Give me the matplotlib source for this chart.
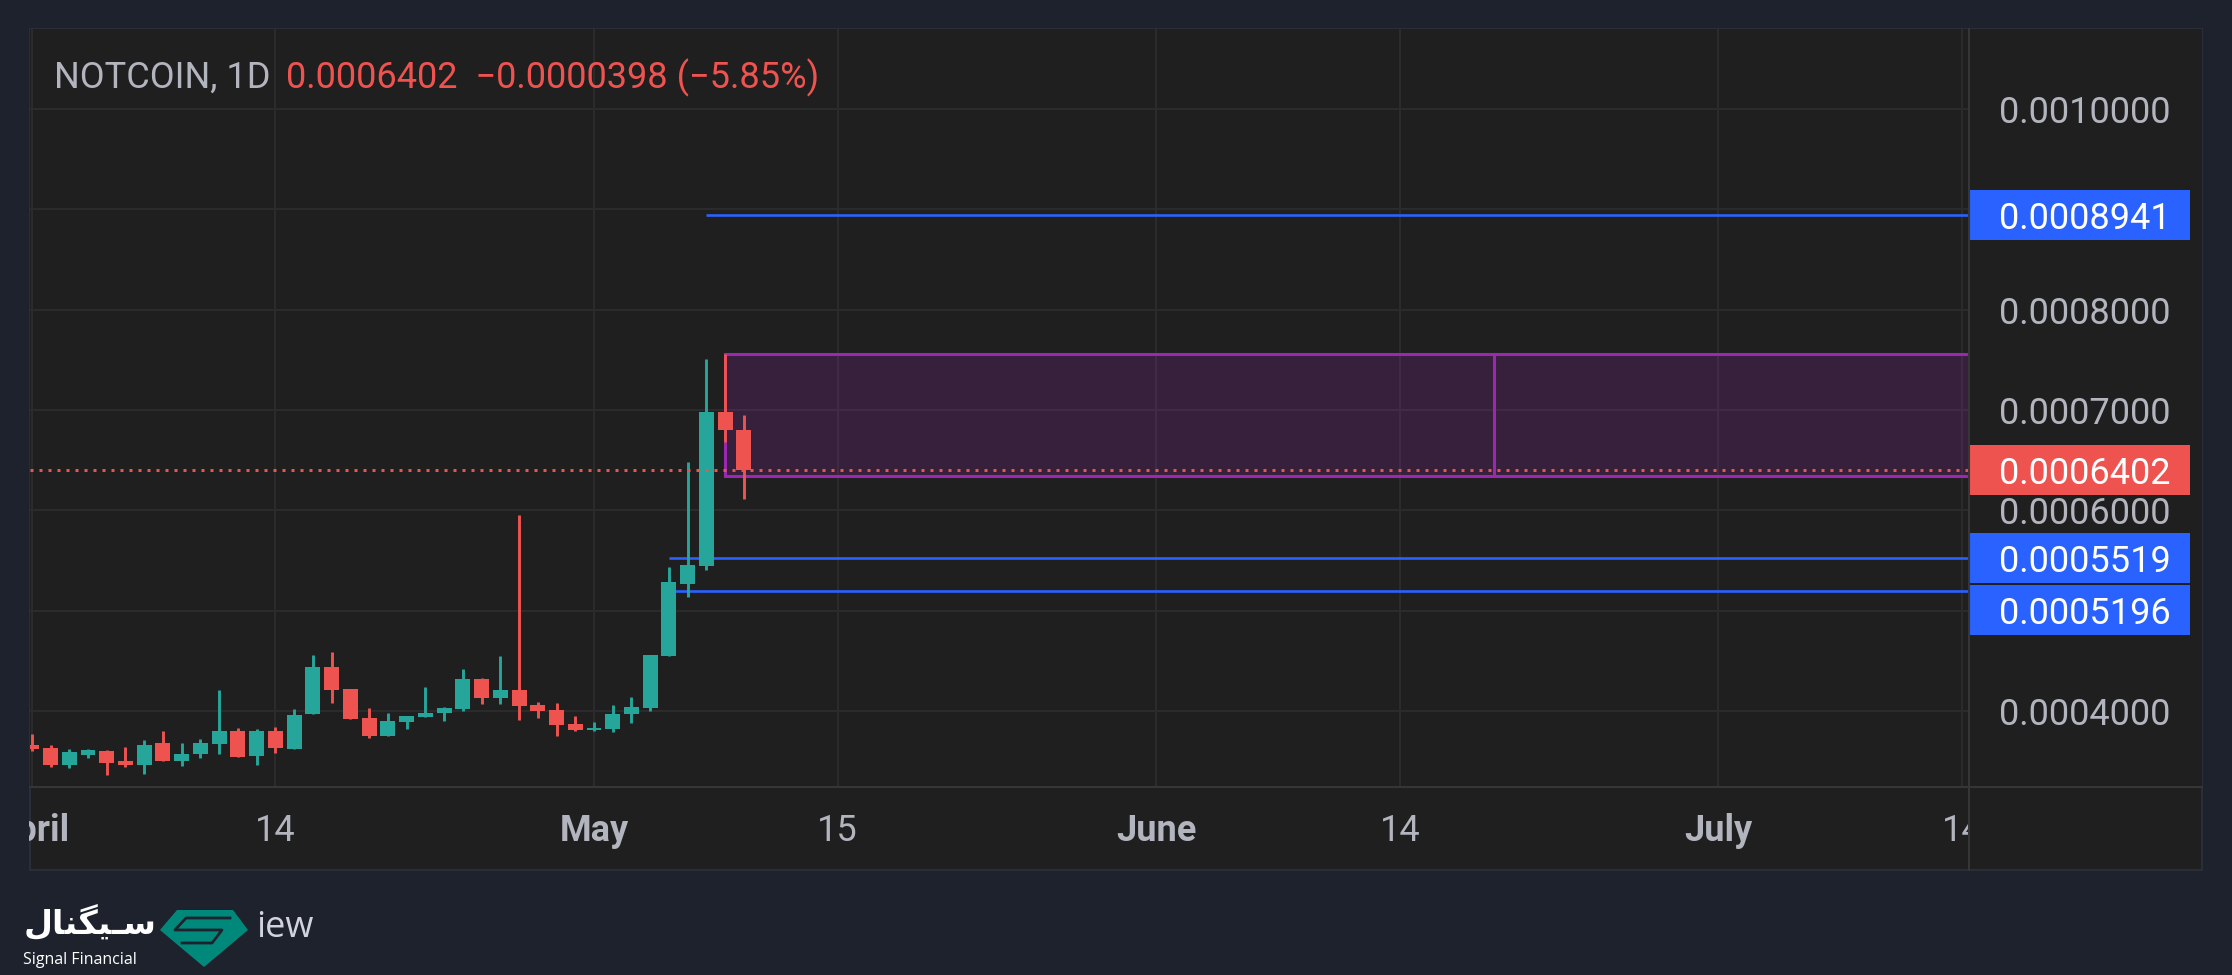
import matplotlib
matplotlib.use('Agg')
import matplotlib.pyplot as plt
from matplotlib.patches import Rectangle, Polygon
from matplotlib.lines import Line2D
from matplotlib.colors import to_rgba
import numpy as np

# NOTCOIN 1D candles, 1 April .. 9 May (x = days since 1 April), prices in 1e-7
opens = [3655, 3625, 3458, 3561, 3595, 3495, 3458, 3674, 3498, 3568, 3668, 3794, 3548,
         3794, 3618, 3967, 4432, 4213, 3924, 3748, 3887, 3937, 3977, 4017, 4322, 4126,
         4203, 4053, 4003, 3864, 3804, 3817, 3967, 4027, 4545, 5266, 5446, 6980, 6800]
highs = [3764, 3655, 3615, 3615, 3605, 3635, 3704, 3794, 3674, 3714, 4203, 3824, 3814,
         3834, 4013, 4552, 4591, 4213, 4023, 3983, 3944, 4233, 4033, 4412, 4332, 4542,
         5957, 4083, 4073, 3944, 3884, 4060, 4140, 4561, 5435, 6481, 7509, 7556, 6950]
lows = [3598, 3439, 3429, 3528, 3359, 3439, 3369, 3498, 3449, 3528, 3568, 3538, 3458,
        3578, 3618, 3967, 4076, 3917, 3728, 3748, 3817, 3937, 3897, 3997, 4066, 4066,
        3907, 3927, 3748, 3797, 3797, 3791, 3878, 3997, 4545, 5137, 5406, 6684, 6115]
closes = [3615, 3458, 3585, 3605, 3478, 3458, 3655, 3498, 3565, 3674, 3794, 3538, 3794,
          3628, 3963, 4432, 4206, 3917, 3748, 3894, 3944, 3983, 4023, 4322, 4126, 4203,
          4047, 3997, 3860, 3808, 3827, 3973, 4033, 4552, 5286, 5453, 6980, 6800, 6402]

# horizontal levels (price, first day)
levels = [0.0008941, 0.0005519, 0.0005196]
level_start = [36, 34, 34]

# purple zone
zone_days = [37, 78]
zone_low, zone_high = 0.0006338, 0.0007556

x_tick_pos = [0, 13, 30, 43, 60, 73, 90, 103]
x_tick_labels = ['April', '14', 'May', '15', 'June', '14', 'July', '14']
price_grid = [0.0004, 0.0005, 0.0006, 0.0007, 0.0008, 0.0009, 0.0010]

W, H = 2232, 975
BG = '#1e222d'
PANEL = '#1f1f1f'
GRID = '#2b2b2b'
SEP = '#363636'
TXT = '#b2b5be'
UP, DOWN = '#26a69a', '#ef5350'
BLUE = '#2962ff'
PURPLE = '#9c27b0'
FONT = 'Roboto'
FS = 26

fig = plt.figure(figsize=(W / 100, H / 100), dpi=100, facecolor=BG)

def fx(px):
    return px / W

def fy(py):
    return 1 - py / H

# panel behind everything
fig.add_artist(Rectangle((fx(30), fy(870)), fx(2202) - fx(30), fy(29) - fy(870),
                         transform=fig.transFigure, fc=PANEL, ec='#2a2e39', lw=1.5, zorder=-1))

ax = fig.add_axes([fx(30), fy(787), fx(1969) - fx(30), fy(29) - fy(787)])
ax.set_facecolor(PANEL)
for s in ax.spines.values():
    s.set_visible(False)

o, h, l, c = [np.array(a) * 1e-7 for a in (opens, highs, lows, closes)]
x = np.arange(len(o))
col = np.where(c >= o, UP, DOWN)

ax.add_patch(Rectangle((zone_days[0], zone_low), 120 - zone_days[0], zone_high - zone_low,
                       fc=to_rgba(PURPLE, 0.2), ec=PURPLE, lw=2.2, zorder=1))
ax.vlines(zone_days[1], zone_low, zone_high, colors=PURPLE, lw=2.2, zorder=1.1)

ax.hlines(levels, level_start, 120, colors=BLUE, lw=1.9, zorder=2)

ax.vlines(x, l, h, colors=col, lw=2.1, zorder=3)
ax.bar(x, np.abs(c - o), bottom=np.minimum(o, c), width=0.8, color=col, lw=0, zorder=3.1)

ax.axhline(c[-1], color=DOWN, lw=2.16, ls=(0, (1, 2)), zorder=4)

ymin, ymax = 0.000324, 0.001080
ax.set_xlim(-0.095, 103.37)
ax.set_ylim(ymin, ymax)
ax.set_xticks(x_tick_pos, x_tick_labels)
ax.set_yticks(price_grid)
ax.tick_params(length=0, labelleft=False, colors=TXT, labelsize=FS)
ax.tick_params(axis='x', pad=19)
for lbl in ax.get_xticklabels():
    lbl.set_fontfamily(FONT)
    if not lbl.get_text().isdigit():
        lbl.set_fontweight('bold')
ax.grid(True, color=GRID, lw=1.5)
ax.set_axisbelow(True)

# price scale column
pax = fig.add_axes([fx(1969), fy(787), fx(2202) - fx(1969), fy(29) - fy(787)], sharey=ax)
pax.set_facecolor(PANEL)
for s in pax.spines.values():
    s.set_visible(False)
pax.set_xticks([])
pax.tick_params(left=False, labelleft=False)
trans = pax.get_yaxis_transform()

ppu = (fy(29) - fy(787)) * H / (ymax - ymin)
box_h = 50 / ppu
gap = 2 / ppu
marks = sorted([(v, BLUE) for v in levels] + [(c[-1], DOWN)], reverse=True)
centers = []
prev = None
for v, colr in marks:
    cy = v
    if prev is not None and prev - cy < box_h + gap:
        cy = prev - box_h - gap
    prev = cy
    centers.append(cy)
    pax.add_patch(Rectangle((0, cy - box_h / 2), 0.9485, box_h, transform=trans,
                            fc=colr, ec='none', zorder=3, clip_on=False))
    pax.text(0.1288, cy, f'{v:.7f}', transform=trans, color='white', fontsize=FS,
             family=FONT, va='center_baseline', zorder=4)

for t in price_grid:
    if all(abs(t - cy) > 0.75 * box_h for cy in centers):
        pax.text(0.1288, t, f'{t:.7f}', transform=trans, color=TXT, fontsize=FS,
                 family=FONT, va='center_baseline', zorder=2)

# covers and separators
fig.add_artist(Rectangle((fx(1970), fy(869)), fx(2201) - fx(1970), fy(788) - fy(869),
                         transform=fig.transFigure, fc=PANEL, ec='none', zorder=1))
fig.add_artist(Rectangle((0, fy(869)), fx(29), fy(788) - fy(869),
                         transform=fig.transFigure, fc=BG, ec='none', zorder=1))
fig.add_artist(Line2D([fx(1969)] * 2, [fy(29), fy(870)], transform=fig.transFigure,
                      color=SEP, lw=1.5, zorder=2))
fig.add_artist(Line2D([fx(30), fx(2202)], [fy(787)] * 2, transform=fig.transFigure,
                      color=SEP, lw=1.5, zorder=2))

# legend header
prev_close, last = c[-2], c[-1]
chg = last - prev_close
fig.text(fx(54), fy(74), 'NOTCOIN, 1D', color=TXT, fontsize=FS, family=FONT,
         va='center_baseline')
fig.text(fx(286), fy(74),
         f'{last:.7f}  {chg:.7f} ({chg / prev_close * 100:.2f}%)'.replace('-', '\u2212'),
         color=DOWN, fontsize=FS, family=FONT, va='center_baseline')

# watermark
persian = '\uFEDD\uFE8E\uFEE8\uFB95\uFBFF\u0640\uFEB3'
fig.text(fx(24), fy(922), persian, color='white', fontsize=24, fontweight='bold',
         family=['DejaVu Sans'], va='center')
fig.text(fx(23), fy(960), 'Signal Financial', color='white', fontsize=11.5,
         family='Open Sans', va='center')
logo = [(177, 910), (233, 910), (248, 930), (204, 967), (160, 930)]
fig.add_artist(Polygon([(fx(a), fy(b)) for a, b in logo], closed=True,
                       transform=fig.transFigure, fc='#00897b', ec='none', zorder=3))
stripe = [(230, 918), (186, 918), (175, 930), (222, 930), (212, 943), (182, 943)]
fig.add_artist(Line2D([fx(a) for a, b in stripe], [fy(b) for a, b in stripe],
                      transform=fig.transFigure, color=BG, lw=2, zorder=4))
fig.text(fx(256), fy(937), 'iew', color='#d1d4dc', fontsize=26, family='Open Sans',
         va='baseline')

fig.savefig('out.png', dpi=100, facecolor=BG)
